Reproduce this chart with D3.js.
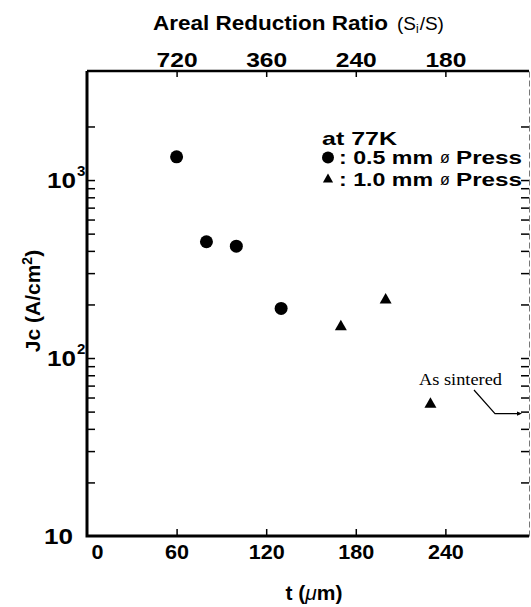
<!DOCTYPE html>
<html><head><meta charset="utf-8">
<script src="https://cdn.jsdelivr.net/npm/d3@7"></script>
<style>body{margin:0;background:#fff}svg{display:block}</style>
</head><body>
<svg id="c" width="531" height="607"></svg>
<script>
// ---- data ----
const tRound = [60, 80, 100, 130];          // t (µm), 0.5 mm press
const jcRound = [1350, 450, 425, 190];       // Jc (A/cm2)
const tTri = [170, 200, 230];                // t (µm), 1.0 mm press
const jcTri = [150, 212, 55];
const asSintered = 50;                        // Jc of as-sintered sample (right axis marker)
const xTickValues = [0, 60, 120, 180, 240];
const topTickValues = [60, 120, 180, 240];
const topTickLabels = ["720", "360", "240", "180"];
const yMajorTicks = [10, 100, 1000];
const yMajorExp = ["", "2", "3"];
const yMinorTicks = [20, 30, 40, 50, 60, 70, 80, 90, 200, 300, 400, 500, 600, 700, 800, 900, 2000];

// ---- layout ----
const L = 87, R = 529, T = 71, B = 536;
const font = "'Liberation Sans', Arial, Helvetica, sans-serif";
const svg = d3.select("#c");
svg.append("rect").attr("width", 531).attr("height", 607).attr("fill", "#fff");

const x = d3.scaleLinear().domain([0, 296]).range([L, R]);
const y = d3.scaleLog().domain([10, 4100]).range([B, T]);

// bottom axis
const gx = svg.append("g").attr("transform", `translate(0,${B})`)
  .call(d3.axisBottom(x).tickValues(xTickValues).tickSizeInner(-7).tickSizeOuter(0).tickPadding(8).tickFormat(d3.format("d")));
gx.select(".domain").remove();
gx.selectAll(".tick line").attr("stroke", "#000").attr("stroke-width", 1.5);
gx.selectAll(".tick text").attr("font-family", font).attr("font-weight", "bold").attr("font-size", 21).attr("fill", "#000")
  .attr("dx", d => d === 0 ? 10 : 0)
  .attr("textLength", d => String(d).length * 12).attr("lengthAdjust", "spacingAndGlyphs");
gx.selectAll(".tick").filter(d => d === 0).select("line").remove();

// top axis
const gt = svg.append("g").attr("transform", `translate(0,${T})`)
  .call(d3.axisTop(x).tickValues(topTickValues).tickSizeInner(-6).tickSizeOuter(0).tickPadding(4)
    .tickFormat((d, i) => topTickLabels[i]));
gt.select(".domain").remove();
gt.selectAll(".tick line").attr("stroke", "#000").attr("stroke-width", 1.5);
gt.selectAll(".tick text").attr("font-family", font).attr("font-weight", "bold").attr("font-size", 21).attr("fill", "#000")
  .attr("textLength", 41).attr("lengthAdjust", "spacingAndGlyphs");

// left axis ticks
const gl = svg.append("g").attr("transform", `translate(${L},0)`)
  .call(d3.axisLeft(y).tickValues(yMajorTicks.concat(yMinorTicks)).tickSizeInner(-8).tickSizeOuter(0).tickFormat(""));
gl.select(".domain").remove();
gl.selectAll(".tick line").attr("stroke", "#000").attr("stroke-width", 1.5);
gl.selectAll(".tick").filter(d => d === 10).remove();

// right axis ticks
const gr = svg.append("g").attr("transform", `translate(${R},0)`)
  .call(d3.axisRight(y).tickValues(yMajorTicks.concat(yMinorTicks)).tickSizeInner(-8).tickSizeOuter(0).tickFormat(""));
gr.select(".domain").attr("stroke", "#777").attr("stroke-width", 1).attr("stroke-dasharray", "6,3");
gr.selectAll(".tick line").attr("stroke", "#000").attr("stroke-width", 1.5);
gr.selectAll(".tick").filter(d => d === 10).remove();

// frame
svg.append("path").attr("d", `M${L},${T}H${R}`).attr("stroke", "#000").attr("stroke-width", 2.5).attr("fill", "none");
svg.append("path").attr("d", `M${L},${T}V${B}H${R}`).attr("stroke", "#000").attr("stroke-width", 3).attr("fill", "none");

// y tick labels
const ylab = svg.append("g").attr("font-family", font).attr("font-weight", "bold").attr("fill", "#000");
yMajorTicks.forEach((v, i) => {
  ylab.append("text").attr("x", yMajorExp[i] ? 47 : 44).attr("y", y(v)).attr("dy", "0.36em")
    .attr("font-size", 22).attr("textLength", 29).attr("lengthAdjust", "spacingAndGlyphs").text("10");
  if (yMajorExp[i]) {
    ylab.append("text").attr("x", 77).attr("y", y(v) - 4).attr("font-size", 15).text(yMajorExp[i]);
  }
});

// axis titles
const xt = svg.append("text").attr("x", 314).attr("y", 600).attr("text-anchor", "middle")
  .attr("font-family", font).attr("font-weight", "bold").attr("font-size", 21).attr("fill", "#000");
xt.append("tspan").text("t (");
xt.append("tspan").attr("font-style", "italic").attr("font-weight", "normal").text("\u03bc");
xt.append("tspan").text("m)");

const yt = svg.append("text").attr("transform", "translate(40,301) rotate(-90)").attr("text-anchor", "middle")
  .attr("font-family", font).attr("font-weight", "bold").attr("font-size", 21).attr("fill", "#000");
yt.append("tspan").text("Jc (A/cm");
yt.append("tspan").attr("font-size", 14).attr("dy", -8).text("2");
yt.append("tspan").attr("dy", 8).text(")");

const tf = svg.append("g").attr("font-family", font).attr("fill", "#000");
tf.append("text").attr("x", 153).attr("y", 30).attr("font-weight", "bold").attr("font-size", 20)
  .attr("textLength", 235).attr("lengthAdjust", "spacingAndGlyphs").text("Areal Reduction Ratio");
const tp = tf.append("text").attr("x", 397).attr("y", 30).attr("font-size", 19);
tp.append("tspan").text("(S");
tp.append("tspan").attr("font-size", 12).attr("dy", 3).text("i");
tp.append("tspan").attr("dy", -3).attr("dx", 1).text("/S)");

// data
const circ = tRound.map((t, i) => ({t, v: jcRound[i]}));
const tri = tTri.map((t, i) => ({t, v: jcTri[i]}));
svg.append("g").selectAll("circle").data(circ).join("circle")
  .attr("cx", d => x(d.t)).attr("cy", d => y(d.v)).attr("r", 6.5).attr("fill", "#000");
const triSym = d3.symbol(d3.symbolTriangle, 62);
svg.append("g").selectAll("path").data(tri).join("path")
  .attr("transform", d => `translate(${x(d.t)},${y(d.v)})`).attr("d", triSym).attr("fill", "#000");

// legend
const lg = svg.append("g").attr("font-family", font).attr("font-weight", "bold").attr("font-size", 19).attr("fill", "#000");
lg.append("text").attr("x", 322).attr("y", 145).attr("textLength", 75).attr("lengthAdjust", "spacingAndGlyphs").text("at 77K");
lg.append("circle").attr("cx", 328).attr("cy", 157.5).attr("r", 6).attr("fill", "#000");
lg.append("path").attr("transform", "translate(328,179.5)").attr("d", d3.symbol(d3.symbolTriangle, 45)).attr("fill", "#000");
[["0.5", 164], ["1.0", 186]].forEach(([s, yy]) => {
  lg.append("text").attr("x", 339).attr("y", yy).attr("textLength", 94).attr("lengthAdjust", "spacingAndGlyphs")
    .text(": " + s + " mm");
  lg.append("text").attr("x", 440).attr("y", yy - 1).attr("font-weight", "normal").attr("font-size", 16).text("\u00f8");
  lg.append("text").attr("x", 456).attr("y", yy).attr("textLength", 66).attr("lengthAdjust", "spacingAndGlyphs").text("Press");
});

// "As sintered" annotation
const ay = y(asSintered) + 2;
svg.append("text").attr("x", 419).attr("y", 385).attr("font-family", "'Liberation Serif', 'Times New Roman', serif")
  .attr("font-size", 17).attr("textLength", 83).attr("lengthAdjust", "spacingAndGlyphs").attr("fill", "#000").text("As sintered");
svg.append("path").attr("d", `M474,390L495,${ay}L${R - 9},${ay}`).attr("stroke", "#000").attr("stroke-width", 1.2).attr("fill", "none");
svg.append("path").attr("d", `M${R - 7},${ay}l-5,-2.2v4.4z`).attr("fill", "#000");
</script>
</body></html>
